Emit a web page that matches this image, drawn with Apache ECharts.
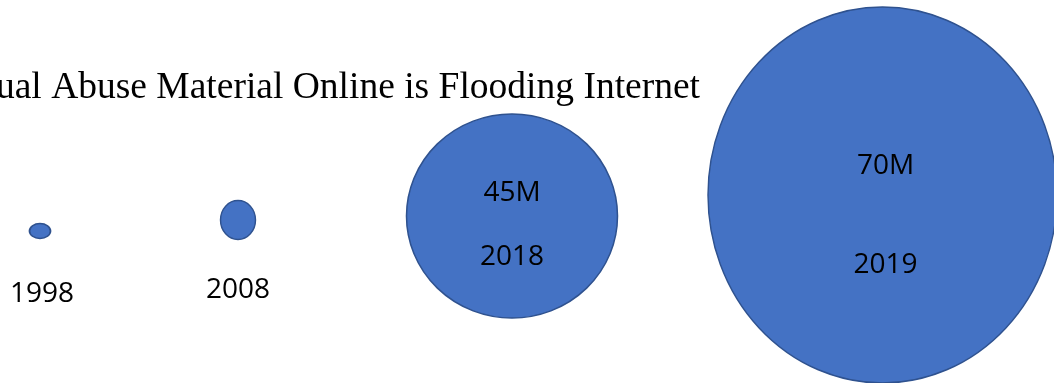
<!DOCTYPE html>
<html>
<head>
<meta charset="utf-8">
<script src="https://cdn.jsdelivr.net/npm/echarts@6/dist/echarts.min.js"></script>
<style>
  html, body { margin: 0; padding: 0; background: #fff; }
  #main { width: 1054px; height: 383px; }
</style>
</head>
<body>
<div id="main"></div>
<script>
  // data
  var years = ['1998', '2008', '2018', '2019'];
  var amounts = ['', '', '45M', '70M'];   // reports, where the picture gives a figure
  var titleText = 'Child Sexual Abuse Material Online is Flooding Internet';

  // look of each bubble (the picture is hand laid out, so sizes/nudges are styling)
  var bubbleSizes = [[21, 15], [35, 39], [211, 204], [349, 376]];
  var bubbleNudge = [[-91.75, 39.5], [-157.25, 28.5], [-146.75, 24.5], [-39.75, 3.5]];

  var chart = echarts.init(document.getElementById('main'));

  var items = years.map(function (y, i) {
    var label;
    if (amounts[i]) {
      var gap = i == 2 ? 64 : 99;
      label = {
        show: true,
        position: 'inside',
        offset: [i == 2 ? 0 : 3, i == 2 ? 9 : 21],
        formatter: '{v|' + amounts[i] + '}\n{v|' + y + '}',
        rich: { v: { fontSize: 28, lineHeight: gap, color: '#000', fontFamily: 'Open Sans' } }
      };
    } else {
      label = {
        show: true,
        position: 'bottom',
        distance: i == 0 ? 40 : 35,
        offset: [i == 0 ? 2 : 0, 0],
        formatter: y,
        fontSize: 28,
        lineHeight: 30,
        color: '#000',
        fontFamily: 'Open Sans'
      };
    }
    return {
      value: [y, 0],
      symbolSize: bubbleSizes[i],
      symbolOffset: bubbleNudge[i],
      label: label
    };
  });

  var option = {
    animation: false,
    title: {
      text: titleText,
      left: 695,
      top: 64,
      textAlign: 'right',
      textStyle: { fontFamily: 'Liberation Serif', fontWeight: 'normal', fontSize: 37.5, color: '#000' }
    },
    grid: { left: 0, right: 0, top: 0, bottom: 0 },
    xAxis: { type: 'category', data: years, show: false },
    yAxis: { type: 'value', min: -1, max: 1, show: false },
    series: [{
      type: 'scatter',
      clip: false,
      symbol: 'circle',
      itemStyle: { color: '#4472C4', borderColor: '#2F528F', borderWidth: 1.5, opacity: 1 },
      data: items
    }]
  };
  chart.setOption(option);
</script>
</body>
</html>
